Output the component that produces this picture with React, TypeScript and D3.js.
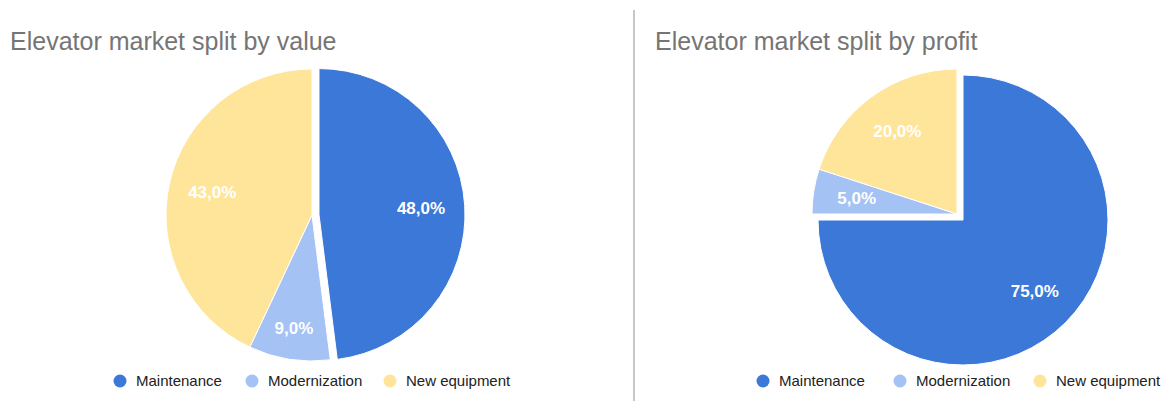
import React from "react";
import * as d3 from "d3";

const categories = ["Maintenance", "Modernization", "New equipment"];
const valueShares = [48, 9, 43];
const profitShares = [75, 5, 20];
const titles = ["Elevator market split by value", "Elevator market split by profit"];
const colors = ["#3c78d8", "#a4c2f4", "#ffe599"];

type PieSpec = {
  title: string;
  values: number[];
  cx: number;
  cy: number;
  r: number;
  explode: number;
  labelFactor: number[];
  titleX: number;
  legendX: number[];
};

const specs: PieSpec[] = [
  {
    title: titles[0],
    values: valueShares,
    cx: 312,
    cy: 215,
    r: 146,
    explode: 7,
    labelFactor: [0.7, 0.79, 0.7],
    titleX: 10,
    legendX: [120, 252, 390],
  },
  {
    title: titles[1],
    values: profitShares,
    cx: 957,
    cy: 214,
    r: 145,
    explode: 8.5,
    labelFactor: [0.7, 0.7, 0.7],
    titleX: 655,
    legendX: [763, 900, 1040],
  },
];

function Pie({ spec }: { spec: PieSpec }) {
  const pie = d3
    .pie<number>()
    .sort(null)
    .value((d) => d)
    .startAngle(0)
    .endAngle(2 * Math.PI);
  const arcs = pie(spec.values);
  const total = d3.sum(spec.values);
  const arc = d3.arc<d3.PieArcDatum<number>>().innerRadius(0).outerRadius(spec.r);
  const fmt = (v: number) => ((v / total) * 100).toFixed(1).replace(".", ",") + "%";
  return (
    <g>
      <text
        x={spec.titleX}
        y={50}
        fontFamily="'Liberation Sans', Arial, sans-serif"
        fontSize={25}
        fill="#757575"
      >
        {spec.title}
      </text>
      {arcs.map((a, i) => {
        const mid = (a.startAngle + a.endAngle) / 2;
        const off = i === 0 ? spec.explode : 0;
        const ox = spec.cx + off * Math.sin(mid);
        const oy = spec.cy - off * Math.cos(mid);
        const lr = spec.r * spec.labelFactor[i];
        const lx = ox + lr * Math.sin(mid);
        const ly = oy - lr * Math.cos(mid);
        return (
          <g key={i}>
            <path
              d={arc(a) || ""}
              transform={`translate(${ox},${oy})`}
              fill={colors[i]}
              stroke="#ffffff"
              strokeWidth={1}
            />
            <text
              x={lx}
              y={ly}
              textAnchor="middle"
              dominantBaseline="central"
              fontFamily="'Liberation Sans', Arial, sans-serif"
              fontWeight="bold"
              fontSize={17}
              fill="#ffffff"
            >
              {fmt(spec.values[i])}
            </text>
          </g>
        );
      })}
      {categories.map((c, i) => (
        <g key={c}>
          <circle cx={spec.legendX[i]} cy={381} r={6.5} fill={colors[i]} />
          <text
            x={spec.legendX[i] + 16}
            y={386}
            fontFamily="'Liberation Sans', Arial, sans-serif"
            fontSize={15}
            fill="#222222"
          >
            {c}
          </text>
        </g>
      ))}
    </g>
  );
}

export default function App() {
  return (
    <svg
      width={1161}
      height={401}
      style={{ position: "absolute", left: 0, top: 0, background: "#ffffff" }}
    >
      <rect x={0} y={0} width={1161} height={401} fill="#ffffff" />
      <line x1={634} x2={634} y1={10} y2={401} stroke="#c8c8c8" strokeWidth={2} />
      {specs.map((s, i) => (
        <Pie key={i} spec={s} />
      ))}
    </svg>
  );
}
